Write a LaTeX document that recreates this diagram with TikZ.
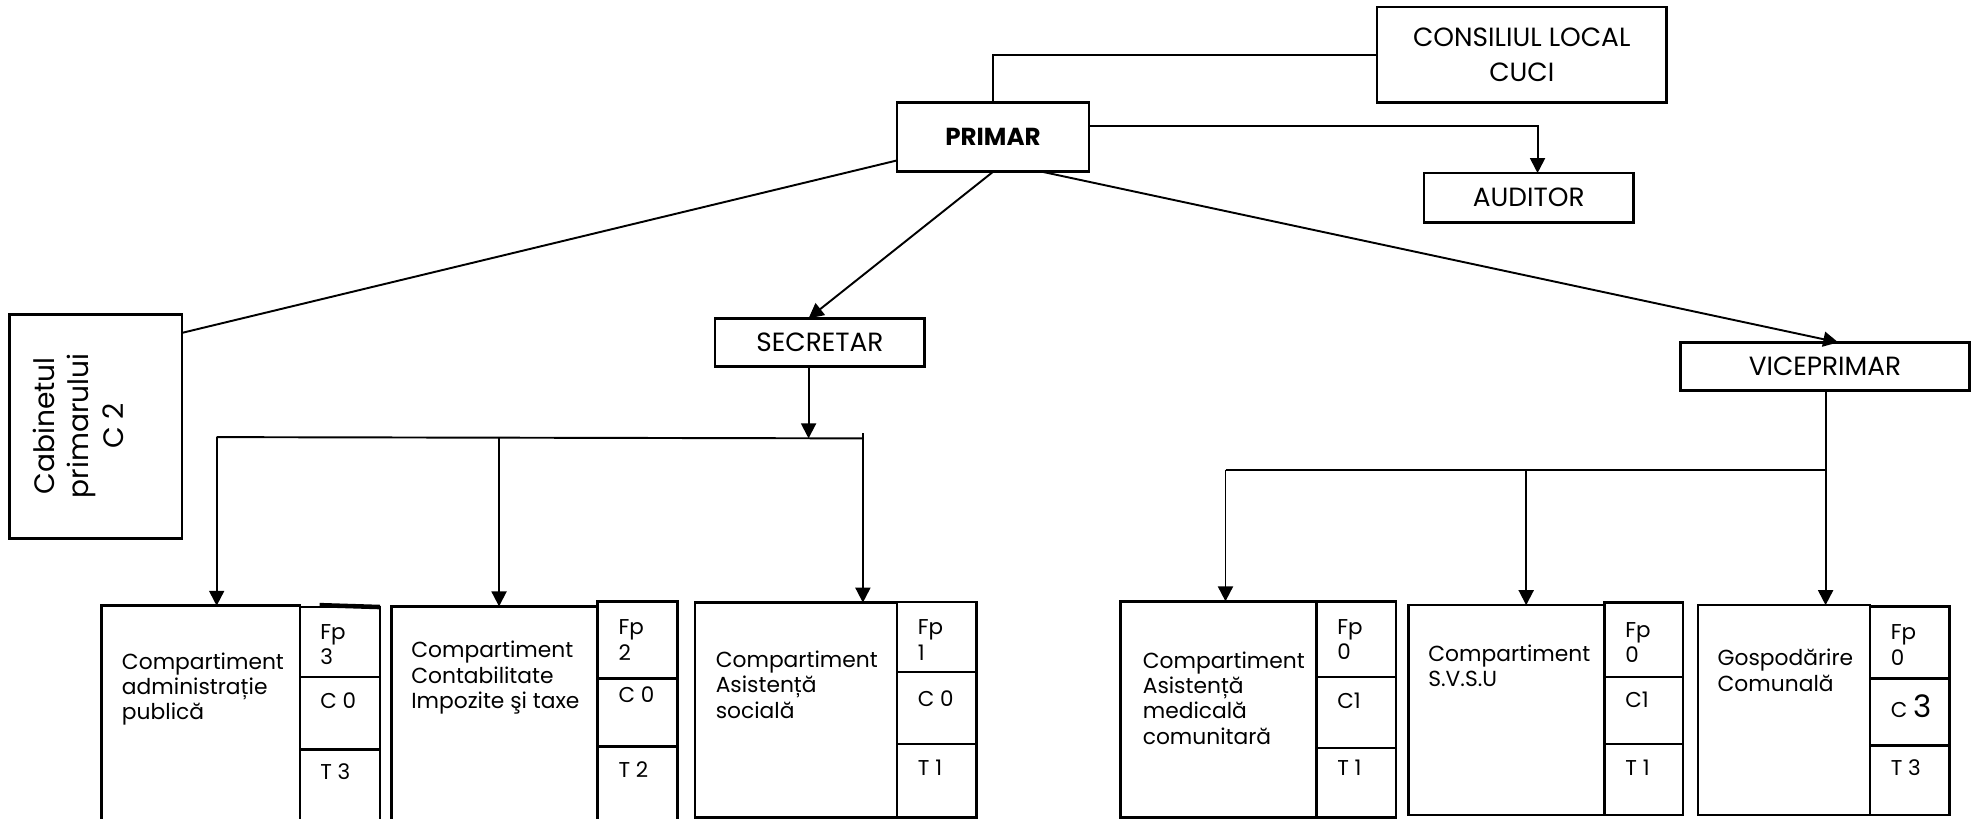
\documentclass[tikz,border=0pt]{standalone}
\usepackage{fontspec}
\setmainfont{Poppins}
\usetikzlibrary{arrows.meta,fit,calc}
\newcommand\fsz[2]{\fontsize{#1}{#2}\selectfont}
\begin{document}
\begin{tikzpicture}[x=0.012634cm,y=-0.012634cm,
  box/.style={draw,line width=0.75pt,inner sep=0pt,outer sep=0pt},
  conn/.style={line width=0.55pt},
  arr/.style={conn,-{Triangle[length=0.15cm,width=0.15cm]}},
  txt/.style={inner sep=0pt,anchor=west,align=left,font=\fsz{6.2}{7.2}},
  cell/.style={inner sep=0pt,anchor=west,align=left,font=\fsz{6.1}{7.2}},
  head/.style={inner sep=0pt,align=center,font=\fsz{7.5}{10}}]
\useasboundingbox (0,0) rectangle (1568,648);

% top boxes
\node[box,fit={(1090,5.5)(1319,81)}] (cons) {};
\node[head] (const) at (cons.center) {CONSILIUL LOCAL\\CUCI};
\node[box,fit={(710,81)(862,136)}] (primar) {};
\node[inner sep=0pt,font=\bfseries\fsz{7}{8}] (primart) at (primar.center) {PRIMAR};
\node[box,fit={(1127,137)(1293,176)}] (aud) {};
\node[head] (audt) at (aud.center) {AUDITOR};
\node[box,fit={(566,252)(732,290)}] (sec) {};
\node[head] (sect) at (sec.center) {SECRETAR};
\node[box,fit={(1330,271)(1559,309)}] (vice) {};
\node[head] (vicet) at (vice.center) {VICEPRIMAR};
\node[box,fit={(7.5,249)(144,426)}] (cab) {};
\node[rotate=90,align=center,inner sep=0pt,font=\fsz{8}{9.8}] (cabt) at (62,337) {Cabinetul\\primarului\\C 2};

% helper coordinates
\coordinate (ha) at (1217,100);
\coordinate (hc1) at (0,127);
\coordinate (hc2) at (0,263.5);
\coordinate (hs) at (640,0);
\coordinate (hv1) at (825,0);
\coordinate (hv2) at (1455,0);
\coordinate (sb) at (640,347);
\coordinate (bl) at (171.5,346);
\coordinate (bm) at (395,346.5);
\coordinate (br) at (683,347);
\coordinate (bt) at (683,343);
\coordinate (vl) at (970,372);
\coordinate (vm) at (1208,372);
\coordinate (vr) at (1445,372);

% bottom box 1
\node[box,fit={(80.5,479.5)(237.5,660)}] (m1) {};
\node[box,fit={(237.5,480.5)(300.8,536)}] (f1) {};
\node[box,fit={(237.5,536)(300.8,593)}] (c1) {};
\node[box,fit={(237.5,593)(300.8,660)}] (t1) {};
\draw[line width=1.3pt] (253,479) -- (f1.north east);
\node[txt] (m1t) at (96,545.5) {Compartiment\\administrație\\publică};
\node[cell] (f1t) at (253,510) {Fp\\3};
\node[cell] (c1t) at (253,555) {C 0};
\node[cell] (t1t) at (253,611) {T 3};

% bottom box 2
\node[box,fit={(310,480)(473,660)}] (m2) {};
\node[box,fit={(473,476)(536,537)}] (f2) {};
\node[box,fit={(473,537)(536,591)}] (c2) {};
\node[box,fit={(473,591)(536,660)}] (t2) {};
\node[txt] (m2t) at (325,536.5) {Compartiment\\Contabilitate\\Impozite şi taxe};
\node[cell] (f2t) at (489,506.5) {Fp\\2};
\node[cell] (c2t) at (489,550) {C 0};
\node[cell] (t2t) at (489,609) {T 2};

% bottom box 3
\node[box,fit={(550,477)(710,647)}] (m3) {};
\node[box,fit={(710,476.5)(773,532)}] (f3) {};
\node[box,fit={(710,532)(773,589)}] (c3) {};
\node[box,fit={(710,589)(773,647)}] (t3) {};
\node[txt] (m3t) at (566,542) {Compartiment\\Asistență\\socială};
\node[cell] (f3t) at (726,506.5) {Fp\\1};
\node[cell] (c3t) at (726,553) {C 0};
\node[cell] (t3t) at (726,608) {T 1};

% bottom box 4
\node[box,fit={(887,476)(1042,647)}] (m4) {};
\node[box,fit={(1042,476)(1105,536)}] (f4) {};
\node[box,fit={(1042,536)(1105,592)}] (c4) {};
\node[box,fit={(1042,592)(1105,647)}] (t4) {};
\node[txt] (m4t) at (904,552.5) {Compartiment\\Asistență\\medicală\\comunitară};
\node[cell] (f4t) at (1058,506) {Fp\\0};
\node[cell] (c4t) at (1058,555) {C1};
\node[cell] (t4t) at (1058,608) {T 1};

% bottom box 5
\node[box,fit={(1115,479)(1270,645)}] (m5) {};
\node[box,fit={(1270,477)(1332,536)}] (f5) {};
\node[box,fit={(1270,536)(1332,589)}] (c5) {};
\node[box,fit={(1270,589)(1332,645)}] (t5) {};
\node[txt] (m5t) at (1130,527) {Compartiment\\S.V.S.U};
\node[cell] (f5t) at (1286,508.5) {Fp\\0};
\node[cell] (c5t) at (1286,554) {C1};
\node[cell] (t5t) at (1286,608) {T 1};

% bottom box 6
\node[box,fit={(1344,479)(1480,645)}] (m6) {};
\node[box,fit={(1480,480)(1543,537)}] (f6) {};
\node[box,fit={(1480,537)(1543,590)}] (c6) {};
\node[box,fit={(1480,590)(1543,645)}] (t6) {};
\node[txt] (m6t) at (1359,530.5) {Gospodărire\\Comunală};
\node[cell] (f6t) at (1496,510.5) {Fp\\0};
\node[cell] (c6t) at (1496,559) {C {\fsz{8.8}{9}3}};
\node[cell] (t6t) at (1496,608) {T 3};

% connectors
\draw[conn] (primar.north) |- (cons.west);
\draw[arr] (ha -| primar.east) -- (ha) -- (ha |- aud.north);
\draw[conn] (primar.west |- hc1) -- (cab.east |- hc2);
\draw[arr] (primar.south) -- (sec.north -| hs);
\draw[arr] (primar.south -| hv1) -- (vice.north -| hv2);

\draw[arr] (sec.south -| sb) -- (sb);
\draw[conn] (bl) -- (br);
\draw[arr] (bl) -- (bl |- m1.north);
\draw[arr] (bm) -- (bm |- m2.north);
\draw[arr] (bt) -- (bt |- m3.north);

\draw[conn] (vl) -- (vr);
\draw[arr] (vice.south -| vr) -- (vr |- m6.north);
\draw[arr] (vl) -- (vl |- m4.north);
\draw[arr] (vm) -- (vm |- m5.north);
\end{tikzpicture}
\end{document}
